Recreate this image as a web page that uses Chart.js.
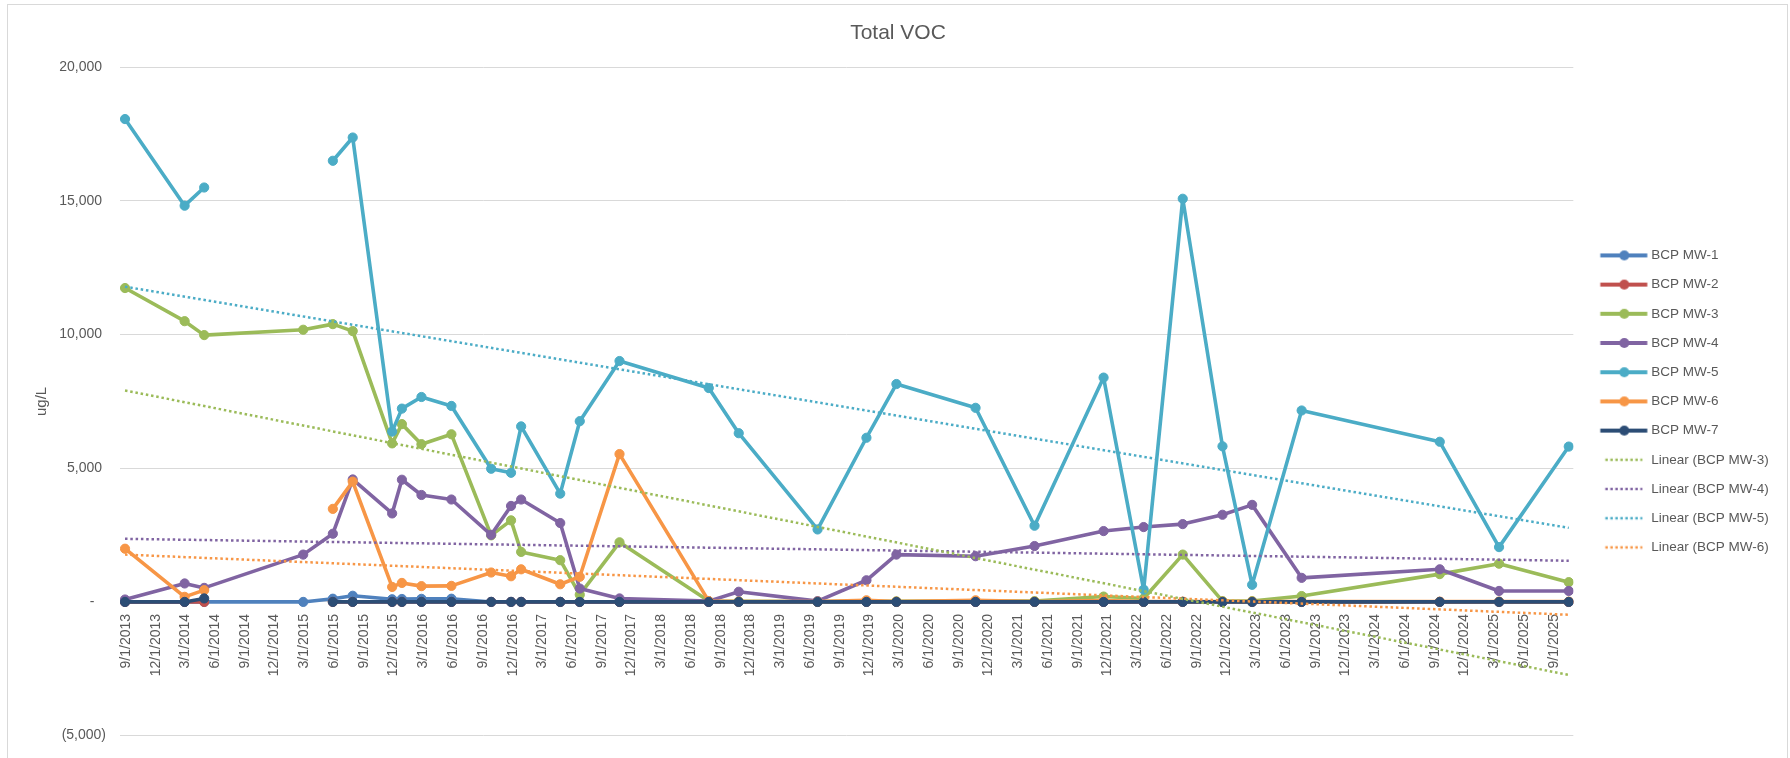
<!DOCTYPE html>
<html>
<head>
<meta charset="utf-8">
<script src="https://cdn.jsdelivr.net/npm/chart.js@4/dist/chart.umd.min.js"></script>
<style>
html,body{margin:0;padding:0;background:#ffffff;}
#wrap{width:1790px;height:758px;position:relative;}
canvas{display:block;}
</style>
</head>
<body>
<div id="wrap"><canvas id="c" width="1790" height="758"></canvas></div>
<script>
// ---------------- DATA ----------------
const sampleDates = ['2013-09-01','2014-03-03','2014-05-02','2015-03-02','2015-06-01','2015-08-01','2015-11-30','2015-12-30','2016-02-28','2016-05-30','2016-09-29','2016-11-29','2016-12-30','2017-04-29','2017-06-28','2017-10-28','2018-07-29','2018-10-29','2019-06-28','2019-11-25','2020-02-25','2020-10-25','2021-04-24','2021-11-22','2022-03-25','2022-07-23','2022-11-22','2023-02-21','2023-07-23','2024-09-19','2025-03-20','2025-10-20'];

const seriesNames = ['BCP MW-1','BCP MW-2','BCP MW-3','BCP MW-4','BCP MW-5','BCP MW-6','BCP MW-7'];

const mw1 = [0,0,0,0,120,230,100,110,115,120,0,0,0,0,0,0,0,0,0,0,0,0,0,0,0,0,0,0,0,0,0,0];
const mw2 = [0,0,0,null,0,0,0,0,0,0,0,0,0,0,0,0,0,0,0,0,0,0,0,0,0,0,0,0,0,0,0,0];
const mw3 = [11740,10500,9980,10180,10390,10130,5930,6650,5900,6270,2490,3050,1870,1560,270,2230,30,20,10,20,20,30,30,200,130,1770,30,30,220,1040,1430,740];
const mw4 = [90,690,525,1770,2550,4580,3310,4570,4000,3830,2510,3590,3830,2950,500,130,30,380,30,810,1770,1710,2090,2650,2800,2910,3260,3630,900,1220,410,410];
const mw5 = [18060,14820,15500,null,16500,17370,6370,7230,7665,7330,4980,4830,6565,4050,6760,9010,8000,6310,2710,6140,8150,7260,2850,8390,460,15080,5820,640,7160,5990,2050,5810];
const mw6 = [1990,190,440,null,3480,4500,560,710,590,600,1100,960,1220,660,940,5530,30,10,10,60,10,60,10,50,10,10,10,10,10,10,10,10];
const mw7 = [0,0,130,null,0,0,0,0,0,0,0,0,0,0,0,0,0,0,0,0,0,0,0,0,0,0,0,0,0,0,0,0];

// Linear trend lines (end points)
const trendNames = ['Linear (BCP MW-3)','Linear (BCP MW-4)','Linear (BCP MW-5)','Linear (BCP MW-6)'];
const trendDates = ['2013-09-01','2025-10-20'];
const trendMW3 = [7910, -2730];
const trendMW4 = [2360, 1540];
const trendMW5 = [11790, 2770];
const trendMW6 = [1770, -480];

const xTickLabels = ['9/1/2013','12/1/2013','3/1/2014','6/1/2014','9/1/2014','12/1/2014','3/1/2015','6/1/2015','9/1/2015','12/1/2015','3/1/2016','6/1/2016','9/1/2016','12/1/2016','3/1/2017','6/1/2017','9/1/2017','12/1/2017','3/1/2018','6/1/2018','9/1/2018','12/1/2018','3/1/2019','6/1/2019','9/1/2019','12/1/2019','3/1/2020','6/1/2020','9/1/2020','12/1/2020','3/1/2021','6/1/2021','9/1/2021','12/1/2021','3/1/2022','6/1/2022','9/1/2022','12/1/2022','3/1/2023','6/1/2023','9/1/2023','12/1/2023','3/1/2024','6/1/2024','9/1/2024','12/1/2024','3/1/2025','6/1/2025','9/1/2025'];

const yMin = -5000, yMax = 20000, yStep = 5000;

// ---------------- HELPERS ----------------
const EPOCH = Date.UTC(2013, 8, 1);
function isoToDay(s){ const p = s.split('-').map(Number); return (Date.UTC(p[0], p[1]-1, p[2]) - EPOCH) / 86400000; }
function mdyToDay(s){ const p = s.split('/').map(Number); return (Date.UTC(p[2], p[0]-1, p[1]) - EPOCH) / 86400000; }

const seriesColors = ['#4F81BD','#C0504D','#9BBB59','#8064A2','#4BACC6','#F79646','#2C4D75'];
const trendColors = ['#9BBB59','#8064A2','#4BACC6','#F79646'];
const seriesValues = [mw1, mw2, mw3, mw4, mw5, mw6, mw7];
const trendValues = [trendMW3, trendMW4, trendMW5, trendMW6];

const FONT = "'Liberation Sans', Arial, sans-serif";
const TXT = '#595959';

function legendImg(color, dotted){
  const c = document.createElement('canvas');
  c.width = 64; c.height = 14;
  const g = c.getContext('2d');
  g.strokeStyle = color; g.fillStyle = color;
  if (dotted){
    g.lineWidth = 2.5; g.setLineDash([2.5, 2.5]);
    g.beginPath(); g.moveTo(20.5, 7); g.lineTo(57.5, 7); g.stroke();
  } else {
    g.lineWidth = 4; g.lineCap = 'butt';
    g.beginPath(); g.moveTo(15.5, 7); g.lineTo(62.5, 7); g.stroke();
    g.beginPath(); g.arc(39.5, 7, 5, 0, Math.PI*2); g.fill();
  }
  return c;
}

const datasets = [];
seriesNames.forEach((name, i) => {
  datasets.push({
    label: name,
    data: sampleDates.map((d, k) => ({x: isoToDay(d), y: seriesValues[i][k]})),
    borderColor: seriesColors[i],
    backgroundColor: seriesColors[i],
    borderWidth: 3.6,
    pointRadius: 4.6,
    pointBackgroundColor: seriesColors[i],
    pointBorderColor: seriesColors[i],
    pointBorderWidth: 1,
    tension: 0,
    spanGaps: false,
    borderJoinStyle: 'round',
    borderCapStyle: 'round',
    order: 20 - i,
    _legendImg: legendImg(seriesColors[i], false)
  });
});
trendNames.forEach((name, i) => {
  datasets.push({
    label: name,
    data: trendDates.map((d, k) => ({x: isoToDay(d), y: trendValues[i][k]})),
    borderColor: trendColors[i],
    backgroundColor: trendColors[i],
    borderWidth: 2.5,
    borderDash: [2.5, 2.8],
    pointRadius: 0,
    tension: 0,
    order: i,
    _legendImg: legendImg(trendColors[i], true)
  });
});

const framePlugin = {
  id: 'frame',
  beforeDraw(chart){
    const ctx = chart.ctx;
    ctx.save();
    ctx.fillStyle = '#ffffff';
    ctx.fillRect(0, 0, chart.width, chart.height);
    ctx.strokeStyle = '#D9D9D9';
    ctx.lineWidth = 1;
    ctx.strokeRect(7.5, 4.5, 1780, 800);
    ctx.restore();
  }
};

new Chart(document.getElementById('c'), {
  type: 'line',
  data: { datasets },
  plugins: [framePlugin],
  options: {
    responsive: false,
    animation: false,
    devicePixelRatio: 1,
    events: [],
    layout: { padding: { left: 17.2, right: 11.2, top: 0, bottom: 18.5 } },
    plugins: {
      tooltip: { enabled: false },
      title: {
        display: true,
        text: 'Total VOC',
        color: TXT,
        font: { family: FONT, size: 21, weight: 'normal' },
        padding: { top: 21, bottom: 21 }
      },
      legend: {
        position: 'right',
        align: 'center',
        fullSize: false,
        labels: {
          color: TXT,
          font: { family: FONT, size: 13.5 },
          padding: 15.7,
          usePointStyle: true,
          pointStyleWidth: 55.5,
          boxHeight: 13.5,
          generateLabels(chart){
            return chart.data.datasets.map((ds, i) => ({
              text: ds.label,
              fillStyle: ds.borderColor,
              strokeStyle: ds.borderColor,
              lineWidth: 0,
              pointStyle: ds._legendImg,
              hidden: false,
              datasetIndex: i,
              fontColor: TXT
            }));
          }
        }
      }
    },
    scales: {
      x: {
        type: 'linear',
        position: { y: 0 },
        min: -15.4,
        max: 4446,
        grid: { display: false, drawTicks: false },
        border: { display: true, color: '#D9D9D9', width: 1 },
        afterBuildTicks(scale){
          scale.ticks = xTickLabels.map(l => ({ value: mdyToDay(l) }));
        },
        ticks: {
          autoSkip: false,
          minRotation: 90,
          maxRotation: 90,
          padding: 12,
          labelOffset: 1,
          color: TXT,
          font: { family: FONT, size: 14 },
          callback(v, i){ return xTickLabels[i]; }
        }
      },
      y: {
        type: 'linear',
        min: yMin,
        max: yMax,
        afterFit(scale){ scale.width = 102.8; },
        grid: { color: '#D9D9D9', lineWidth: 1, drawTicks: false },
        border: { display: false },
        ticks: {
          stepSize: yStep,
          padding: 14,
          color: TXT,
          font: { family: FONT, size: 14 },
          callback(v){
            if (v === 0) return '-   ';
            const s = Math.abs(v).toLocaleString('en-US');
            return v < 0 ? '(' + s + ')' : s + ' ';
          }
        },
        title: {
          display: true,
          text: 'ug/L',
          color: TXT,
          font: { family: FONT, size: 15 },
          padding: { top: 15.8, bottom: 0 }
        }
      }
    }
  }
});
</script>
</body>
</html>
